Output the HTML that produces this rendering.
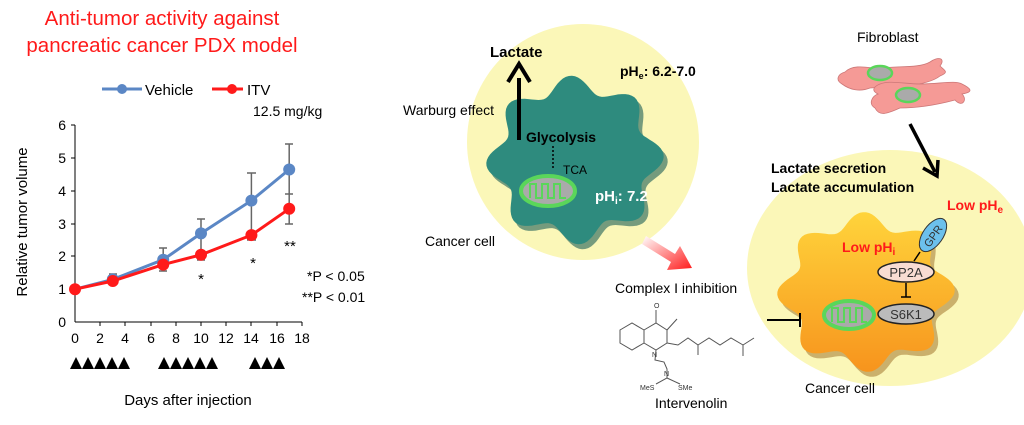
<!DOCTYPE html>
<html><head><meta charset="utf-8"><style>
html,body{margin:0;padding:0;background:#fff;}
svg{display:block;font-family:"Liberation Sans",Arial,sans-serif;}
</style></head><body>
<svg width="1024" height="425" viewBox="0 0 1024 425" xmlns="http://www.w3.org/2000/svg">
<defs>
<linearGradient id="og" x1="0" y1="0" x2="0" y2="1"><stop offset="0" stop-color="#ffd43b"/><stop offset="1" stop-color="#f7941d"/></linearGradient>
<linearGradient id="pg" x1="0" y1="0" x2="1" y2="1"><stop offset="0" stop-color="#fff"/><stop offset="1" stop-color="#ff1a1a"/></linearGradient>
</defs>
<!-- Title -->
<text x="162" y="25" font-size="20.5" fill="#ff1a1a" text-anchor="middle">Anti-tumor activity against</text>
<text x="162" y="52" font-size="20.5" fill="#ff1a1a" text-anchor="middle">pancreatic cancer PDX model</text>
<!-- Legend -->
<line x1="102" y1="89" x2="142" y2="89" stroke="#5b87c5" stroke-width="3"/><circle cx="122" cy="89" r="5" fill="#5b87c5"/>
<text x="145" y="95" font-size="15">Vehicle</text>
<line x1="212" y1="89" x2="243" y2="89" stroke="#ff1a1a" stroke-width="3"/><circle cx="232" cy="89" r="5" fill="#ff1a1a"/>
<text x="247" y="95" font-size="15">ITV</text>
<text x="253" y="116" font-size="14">12.5 mg/kg</text>
<!-- Axes -->
<g stroke="#000" stroke-width="1">
<line x1="75" y1="125" x2="75" y2="322"/><line x1="75" y1="322" x2="302" y2="322"/>
<line x1="71" y1="125" x2="75" y2="125"/><line x1="71" y1="158" x2="75" y2="158"/><line x1="71" y1="191" x2="75" y2="191"/><line x1="71" y1="224" x2="75" y2="224"/><line x1="71" y1="256" x2="75" y2="256"/><line x1="71" y1="289" x2="75" y2="289"/>
<line x1="100" y1="322" x2="100" y2="326"/><line x1="125" y1="322" x2="125" y2="326"/><line x1="151" y1="322" x2="151" y2="326"/><line x1="176" y1="322" x2="176" y2="326"/><line x1="201" y1="322" x2="201" y2="326"/><line x1="226" y1="322" x2="226" y2="326"/><line x1="251" y1="322" x2="251" y2="326"/><line x1="277" y1="322" x2="277" y2="326"/><line x1="302" y1="322" x2="302" y2="326"/>
</g>
<g font-size="14" text-anchor="end">
<text x="66" y="130">6</text><text x="66" y="163">5</text><text x="66" y="196">4</text><text x="66" y="229">3</text><text x="66" y="261">2</text><text x="66" y="294">1</text><text x="66" y="327">0</text>
</g>
<g font-size="14" text-anchor="middle">
<text x="75" y="343">0</text><text x="100" y="343">2</text><text x="125" y="343">4</text><text x="151" y="343">6</text><text x="176" y="343">8</text><text x="201" y="343">10</text><text x="226" y="343">12</text><text x="251" y="343">14</text><text x="277" y="343">16</text><text x="302" y="343">18</text>
</g>
<text transform="translate(27,222) rotate(-90)" font-size="15" text-anchor="middle">Relative tumor volume</text>
<g stroke="#666" stroke-width="1.5">
<line x1="112.8" y1="274" x2="112.8" y2="285"/><line x1="109" y1="274" x2="117" y2="274"/>
<line x1="163.2" y1="248" x2="163.2" y2="271"/><line x1="159" y1="248" x2="167" y2="248"/><line x1="159" y1="271" x2="167" y2="271"/>
<line x1="201" y1="219" x2="201" y2="260"/><line x1="197" y1="219" x2="205" y2="219"/><line x1="197" y1="260" x2="205" y2="260"/>
<line x1="251.4" y1="173" x2="251.4" y2="240"/><line x1="247" y1="173" x2="256" y2="173"/><line x1="247" y1="240" x2="256" y2="240"/>
<line x1="289.2" y1="144" x2="289.2" y2="224"/><line x1="285" y1="144" x2="293" y2="144"/><line x1="285" y1="194" x2="293" y2="194"/><line x1="285" y1="224" x2="293" y2="224"/>
</g>
<polyline points="75,289.2 112.8,279.4 163.2,259.7 201,233.4 251.4,200.6 289.2,169.5" fill="none" stroke="#5b87c5" stroke-width="3"/>
<g fill="#5b87c5"><circle cx="112.8" cy="279.4" r="6"/><circle cx="163.2" cy="259.7" r="6"/><circle cx="201" cy="233.4" r="6"/><circle cx="251.4" cy="200.6" r="6"/><circle cx="289.2" cy="169.5" r="6"/></g>
<polyline points="75,289.2 112.8,281 163.2,264.6 201,254.8 251.4,235.1 289.2,208.8" fill="none" stroke="#ff1a1a" stroke-width="3"/>
<g fill="#ff1a1a"><circle cx="75" cy="289.2" r="6"/><circle cx="112.8" cy="281" r="6"/><circle cx="163.2" cy="264.6" r="6"/><circle cx="201" cy="254.8" r="6"/><circle cx="251.4" cy="235.1" r="6"/><circle cx="289.2" cy="208.8" r="6"/></g>
<g font-size="15" text-anchor="middle"><text x="201" y="284">*</text><text x="253" y="268">*</text><text x="290" y="251">**</text></g>
<text x="307" y="281" font-size="14">*P &lt; 0.05</text>
<text x="302" y="302" font-size="14">**P &lt; 0.01</text>
<g fill="#000">
<path d="M70,369 L76,357 L82,369Z M82,369 L88,357 L94,369Z M94,369 L100,357 L106,369Z M106,369 L112,357 L118,369Z M118,369 L124,357 L130,369Z"/>
<path d="M158,369 L164,357 L170,369Z M170,369 L176,357 L182,369Z M182,369 L188,357 L194,369Z M194,369 L200,357 L206,369Z M206,369 L212,357 L218,369Z"/>
<path d="M249,369 L255,357 L261,369Z M261,369 L267,357 L273,369Z M273,369 L279,357 L285,369Z"/>
</g>
<text x="188" y="405" font-size="15" text-anchor="middle">Days after injection</text>

<!-- middle panel -->
<ellipse cx="583" cy="142" rx="116" ry="118" fill="#fbf7b8"/>
<path id="tealsh" fill="#1d5d55" opacity="0.6" transform="translate(4,5)"/>
<path id="teal" fill="#2e8b7e"/>
<text x="490" y="57" font-size="15" font-weight="bold">Lactate</text>
<line x1="519" y1="140" x2="519" y2="78" stroke="#000" stroke-width="4"/>
<path d="M508,82 L519,64 L530,82" fill="none" stroke="#000" stroke-width="4"/>
<text x="620" y="76" font-size="14" font-weight="bold">pH<tspan font-size="9" dy="3">e</tspan><tspan dy="-3">: 6.2-7.0</tspan></text>
<text x="403" y="115" font-size="14">Warburg effect</text>
<text x="526" y="142" font-size="14" font-weight="bold">Glycolysis</text>
<line x1="553" y1="146" x2="553" y2="170" stroke="#000" stroke-width="1.5" stroke-dasharray="2,2"/>
<text x="563" y="174" font-size="12">TCA</text>
<ellipse cx="548" cy="191" rx="27" ry="15" fill="#aaa" stroke="#5ad65a" stroke-width="4"/>
<path d="M530,198 L530,184 L536,184 L536,198 L542,198 L542,184 L548,184 L548,198 L554,198 L554,184 L560,184 L560,198 L566,198" fill="none" stroke="#5ad65a" stroke-width="2"/>
<text x="595" y="201" font-size="15" font-weight="bold" fill="#fff">pH<tspan font-size="10" dy="3">i</tspan><tspan dy="-3">: 7.2</tspan></text>
<text x="425" y="246" font-size="14">Cancer cell</text>
<path d="M646,236 L675,254 L680,246 L692,268 L667,270 L671,262 L642,244Z" fill="url(#pg)"/>
<text x="615" y="293" font-size="14">Complex I inhibition</text>
<g stroke="#555" stroke-width="1" fill="none">
<path d="M620,330 L632,323 L644,330 L644,343 L632,350 L620,343Z"/>
<path d="M644,330 L656,323 L667,330 L667,343 L656,350 L644,343"/>
<line x1="656" y1="323" x2="656" y2="310"/>
<line x1="667" y1="330" x2="677" y2="319"/>
<path d="M667,343 L678,345 L688,338 L698,345 L698,355 M698,345 L709,338 L720,345 L731,338 L743,345 L743,356 M743,345 L754,338"/>
<path d="M656,350 L655,360 L664,362 L667,369 L667,378 L656,384 M667,378 L680,384"/>
</g>
<g font-size="7" fill="#333"><text x="654" y="308">O</text><text x="652" y="357">N</text><text x="664" y="376">N</text><text x="640" y="390">MeS</text><text x="678" y="390">SMe</text></g>
<text x="655" y="408" font-size="14">Intervenolin</text>

<!-- right panel -->
<text x="857" y="42" font-size="14">Fibroblast</text>
<g fill="#f59a96" stroke="#c77" stroke-width="0.8">
<path d="M845,72 C855,62 875,70 880,68 C900,66 920,68 930,62 C938,56 946,58 940,66 C944,70 950,72 940,76 C935,80 925,84 905,86 L870,88 C860,92 850,90 842,84 C835,80 838,74 845,72Z"/>
<path d="M880,84 C890,80 905,84 920,84 C940,84 955,80 962,84 C970,88 975,92 962,94 C968,100 962,108 955,100 C940,104 920,108 900,108 C890,112 880,118 875,108 C868,104 872,96 878,94 C870,90 875,86 880,84Z"/>
</g>
<ellipse cx="880" cy="73" rx="12" ry="7" fill="#aaa" stroke="#5ad65a" stroke-width="2.5"/>
<ellipse cx="908" cy="95" rx="12" ry="7" fill="#aaa" stroke="#5ad65a" stroke-width="2.5"/>
<ellipse cx="890" cy="268" rx="143" ry="118" fill="#fbf7b8"/>
<line x1="910" y1="124" x2="935" y2="172" stroke="#000" stroke-width="3.5"/>
<path d="M923,168 L937,176 L938,160" fill="none" stroke="#000" stroke-width="3.5"/>
<text x="771" y="173" font-size="14" font-weight="bold">Lactate secretion</text>
<text x="771" y="192" font-size="14" font-weight="bold">Lactate accumulation</text>
<path id="orsh" fill="#9a6a20" opacity="0.5" transform="translate(4,5)"/>
<path id="orng" fill="url(#og)"/>
<text x="947" y="210" font-size="14" font-weight="bold" fill="#ff1a1a">Low pH<tspan font-size="10" dy="3">e</tspan></text>
<ellipse cx="933" cy="235" rx="10" ry="19" transform="rotate(35 933 235)" fill="#6cc0ec" stroke="#333" stroke-width="1"/>
<text x="933" y="240" font-size="11" text-anchor="middle" fill="#333" transform="rotate(-55 933 236)">GPR</text>
<text x="842" y="252" font-size="14" font-weight="bold" fill="#ff1a1a">Low pH<tspan font-size="10" dy="3">i</tspan></text>
<line x1="920" y1="252" x2="914" y2="261" stroke="#000" stroke-width="1.5"/>
<ellipse cx="906" cy="272" rx="28" ry="10" fill="#f8dcd2" stroke="#222" stroke-width="1.5"/>
<text x="906" y="277" font-size="13" text-anchor="middle" fill="#333">PP2A</text>
<line x1="906" y1="283" x2="906" y2="297" stroke="#000" stroke-width="1.5"/><line x1="901" y1="297" x2="911" y2="297" stroke="#000" stroke-width="1.5"/>
<ellipse cx="906" cy="314" rx="28" ry="10" fill="#bbb" stroke="#222" stroke-width="1.5"/>
<text x="906" y="319" font-size="13" text-anchor="middle" fill="#333">S6K1</text>
<ellipse cx="849" cy="315" rx="25" ry="14" fill="#aaa" stroke="#5ad65a" stroke-width="4"/>
<path d="M832,322 L832,308 L838,308 L838,322 L844,322 L844,308 L850,308 L850,322 L856,322 L856,308 L862,308 L862,322 L867,322" fill="none" stroke="#5ad65a" stroke-width="2"/>
<line x1="767" y1="320" x2="800" y2="320" stroke="#000" stroke-width="2"/><line x1="800" y1="313" x2="800" y2="327" stroke="#000" stroke-width="2"/>
<text x="805" y="393" font-size="14">Cancer cell</text>
</svg>
<script>
function blob(id,cx,cy,rx,ry,n,amp,ph){var d="";for(var i=0;i<=180;i++){var t=i/180*2*Math.PI;var k=1+amp*Math.cos(n*t+ph);var x=cx+rx*k*Math.cos(t),y=cy+ry*k*Math.sin(t);d+=(i?"L":"M")+x.toFixed(1)+","+y.toFixed(1);}d+="Z";document.getElementById(id).setAttribute("d",d);}
blob("tealsh",575,160,80,76,8,0.11,0.4);blob("teal",575,160,80,76,8,0.11,0.4);
blob("orsh",866,292,80,72,8,0.11,0.2);blob("orng",866,292,80,72,8,0.11,0.2);
</script>
</body></html>
